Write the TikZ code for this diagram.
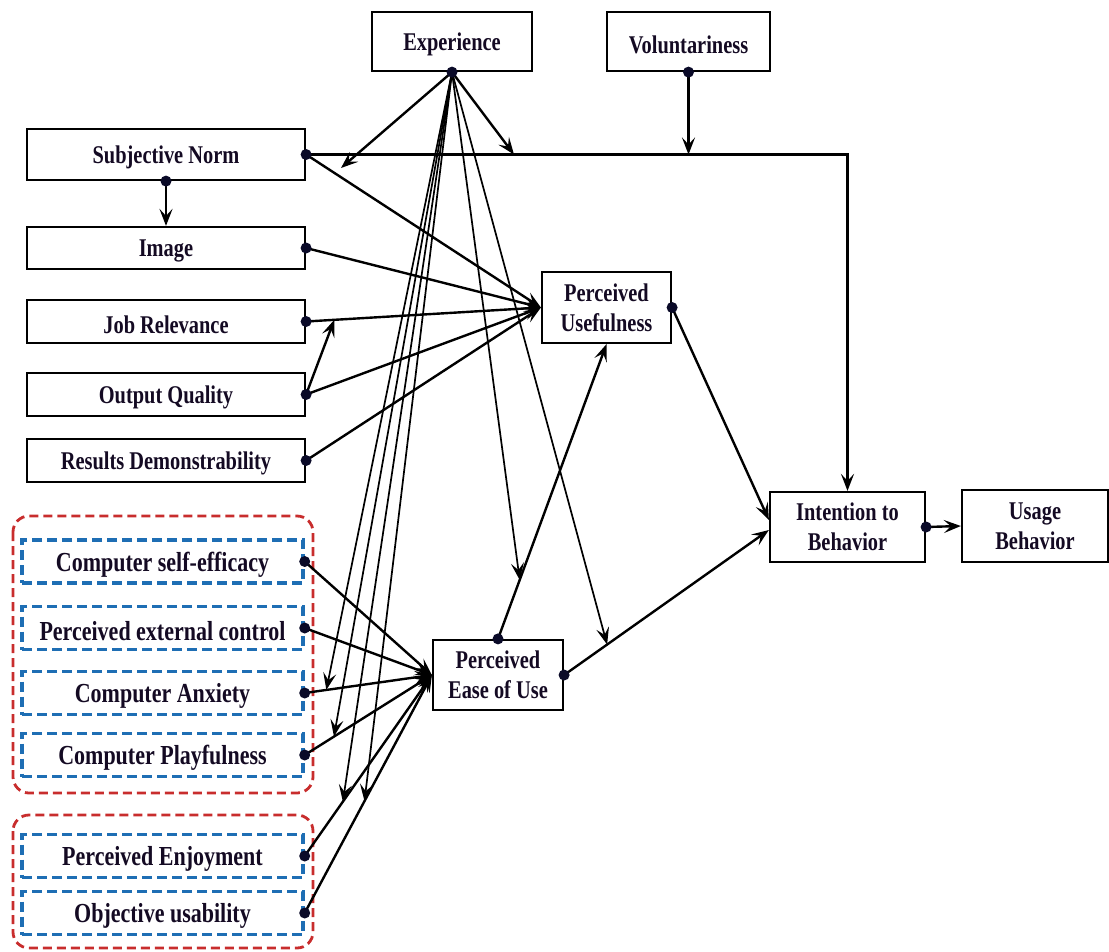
\documentclass[tikz,border=0pt]{standalone}
\usepackage{fontspec}
\setmainfont{Liberation Serif}[FakeStretch=0.8]
\usetikzlibrary{arrows.meta,calc}
\definecolor{dotc}{RGB}{10,10,40}
\definecolor{bluedash}{RGB}{30,110,180}
\definecolor{reddash}{RGB}{200,45,45}
\definecolor{txt}{RGB}{20,10,35}
\newcommand{\lowtext}[1]{\raisebox{-3pt}[\height][\depth]{#1}}
\begin{document}
\begin{tikzpicture}[x=1pt,y=-1pt,
  box/.style={draw=black, line width=2.2pt, fill=white, text=txt, font=\bfseries\fontsize{25.5}{30}\selectfont, align=center, inner sep=0pt},
  bbox/.style={draw=bluedash, line width=3.4pt, dash pattern=on 10pt off 5pt, fill=white, text=txt, font=\bfseries\fontsize{27.5}{30}\selectfont, inner sep=0pt, minimum width=281pt, minimum height=43pt},
  grp/.style={draw=reddash, line width=2.8pt, dash pattern=on 9pt off 5pt, rounded corners=16pt},
  arr/.style={-{Stealth[length=17pt,width=13pt,inset=7pt]}, line width=2.4pt},
  thinarr/.style={-{Stealth[length=17pt,width=13pt,inset=7pt]}, line width=1.7pt},
  dotmark/.style={fill=dotc}
]
\useasboundingbox (0,0) rectangle (1109,951);
% groups
\draw[grp] (13,516) rectangle (313,793);
\draw[grp] (13,815) rectangle (313,948);
% top nodes
\node[box, minimum width=160pt, minimum height=59pt] (exp) at (452,41.5) {\lowtext{Experience}};
\node[box, minimum width=163pt, minimum height=59pt] (vol) at (688.5,41.5) {\lowtext{Voluntariness}};
% left column
\node[box, minimum width=278pt, minimum height=51pt] (sn) at (166,154.5) {\lowtext{Subjective Norm}};
\node[box, minimum width=278pt, minimum height=42pt] (img) at (166,248) {\lowtext{Image}};
\node[box, minimum width=278pt, minimum height=43pt] (job) at (166,321.5) {\lowtext{Job Relevance}};
\node[box, minimum width=278pt, minimum height=43pt] (out) at (166,394.5) {\lowtext{Output Quality}};
\node[box, minimum width=278pt, minimum height=43pt] (res) at (166,460.5) {\lowtext{Results Demonstrability}};
% blue dashed
\node[bbox] (cse) at (162.5,561.5) {\lowtext{Computer self-efficacy}};
\node[bbox] (pec) at (162.5,628) {\lowtext{Perceived external control}};
\node[bbox] (ca) at (162.5,693) {\lowtext{Computer Anxiety}};
\node[bbox] (cp) at (162.5,755) {\lowtext{Computer Playfulness}};
\node[bbox] (pe) at (162.5,856) {\lowtext{Perceived Enjoyment}};
\node[bbox] (ou) at (162.5,913) {\lowtext{Objective usability}};
% central
\node[box, minimum width=129pt, minimum height=71pt] (pu) at (606.5,307.5) {Perceived\\Usefulness};
\node[box, minimum width=130pt, minimum height=70pt] (peou) at (498,675) {Perceived\\Ease of Use};
\node[box, minimum width=155pt, minimum height=70pt] (itb) at (847.5,527) {Intention to\\Behavior};
\node[box, minimum width=146pt, minimum height=72pt] (ub) at (1035,526) {Usage\\Behavior};
% coordinates
\coordinate (e1) at (341,168);
\coordinate (e2) at (514,154.5);
\coordinate (jq) at ($(job.east)!0.12!(pu.west)$);
\coordinate (m1) at ($(peou.north)!0.2!(pu.south)$);
\coordinate (m2) at ($(peou.east)!0.21!([yshift=-3pt]itb.west)$);
\coordinate (m3) at ($(ca.east)!0.17!(peou.west)$);
\coordinate (m4) at ($(cp.east)!0.23!(peou.west)$);
\coordinate (m5) at ($(pe.east)!0.30!(peou.west)$);
\coordinate (m6) at ($(ou.east)!0.47!(peou.west)$);
% connectors
\draw[arr] (sn.east) -| (itb.north);
\draw[arr] (vol.south) -- (vol.south |- sn.east);
\draw[arr] (exp.south) -- (e1);
\draw[arr] (exp.south) -- (e2);
\draw[arr] (sn.south) -- (img.north);
\draw[arr] (sn.east) -- (pu.west);
\draw[arr] (img.east) -- (pu.west);
\draw[arr] (job.east) -- (pu.west);
\draw[arr] (out.east) -- (pu.west);
\draw[arr] (out.east) -- (jq);
\draw[arr] (res.east) -- (pu.west);
\draw[arr] (peou.north) -- (pu.south);
\draw[arr] (pu.east) -- ([yshift=7pt]itb.west);
\draw[arr] (peou.east) -- ([yshift=-3pt]itb.west);
\draw[arr] (itb.east) -- (ub.west);
\foreach \n in {cse,pec,ca,cp,pe,ou} \draw[arr] (\n.east) -- (peou.west);
\foreach \m in {m1,m2,m3,m4,m5,m6} \draw[thinarr] (exp.south) -- (\m);
% dots
\foreach \p in {exp.south,vol.south,sn.east,sn.south,img.east,job.east,out.east,res.east,cse.east,pec.east,ca.east,cp.east,pe.east,ou.east,pu.east,peou.north,peou.east,itb.east}
  \fill[dotmark] (\p) circle (5.5pt);
\end{tikzpicture}
\end{document}
